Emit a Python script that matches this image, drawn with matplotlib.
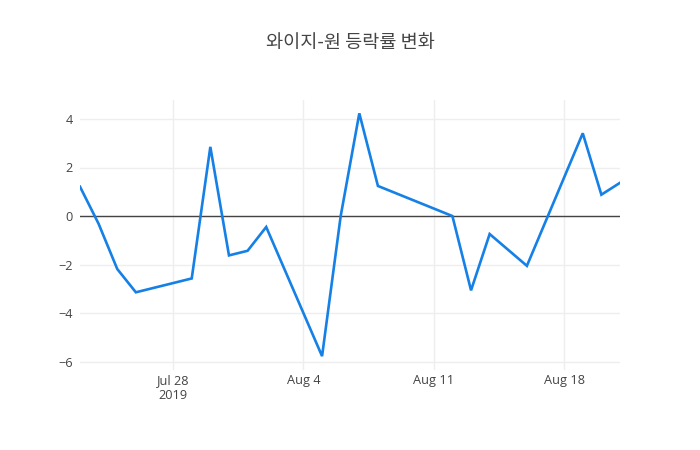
import matplotlib
matplotlib.use("Agg")
import matplotlib.pyplot as plt
import matplotlib.dates as mdates
import pandas as pd

plt.rcParams['font.family'] = ['Open Sans', 'Noto Sans CJK KR', 'DejaVu Sans']

title = "와이지-원 등락률 변화"
dates = ["2019-07-23", "2019-07-24", "2019-07-25", "2019-07-26", "2019-07-29",
         "2019-07-30", "2019-07-31", "2019-08-01", "2019-08-02", "2019-08-05",
         "2019-08-06", "2019-08-07", "2019-08-08", "2019-08-12", "2019-08-13",
         "2019-08-14", "2019-08-16", "2019-08-19", "2019-08-20", "2019-08-21"]
change = [1.21, -0.32, -2.18, -3.14, -2.57,
          2.85, -1.62, -1.43, -0.45, -5.77,
          0.0, 4.23, 1.24, 0.0, -3.06,
          -0.74, -2.05, 3.41, 0.88, 1.37]
xtick_dates = ["2019-07-28", "2019-08-04", "2019-08-11", "2019-08-18"]
xtick_labels = ["Jul 28\n2019", "Aug 4", "Aug 11", "Aug 18"]
ytick_vals = [-6, -4, -2, 0, 2, 4]

x = pd.to_datetime(dates)

fig = plt.figure(figsize=(7, 4.5), dpi=100)
ax = fig.add_axes([80/700, 80/450, 540/700, 270/450])

ax.plot(x, change, color='#1580E6', linewidth=1.9, solid_joinstyle='miter', zorder=3)
ax.axhline(0, color='#444444', linewidth=1, zorder=2)

ax.set_xlim(x[0], x[-1])
ax.set_ylim(-6.34, 4.78)

ax.set_xticks(pd.to_datetime(xtick_dates))
ax.set_xticklabels(xtick_labels)
ax.set_yticks(ytick_vals)
ax.set_yticklabels([str(v).replace('-', '\u2212') for v in ytick_vals])

ax.grid(True, color='#eeeeee', linewidth=1, zorder=0)
ax.set_axisbelow(True)
for s in ax.spines.values():
    s.set_visible(False)
ax.tick_params(axis='both', length=0, labelsize=9.2, labelcolor='#444444')
ax.tick_params(axis='x', pad=3)
ax.tick_params(axis='y', pad=5)

fig.text(350/700, 1 - 43/450, title, ha='center', va='center', fontsize=13.4,
         color='#444444', family=['Noto Sans CJK KR', 'DejaVu Sans'])

fig.savefig('out.png', dpi=100, facecolor='white')
